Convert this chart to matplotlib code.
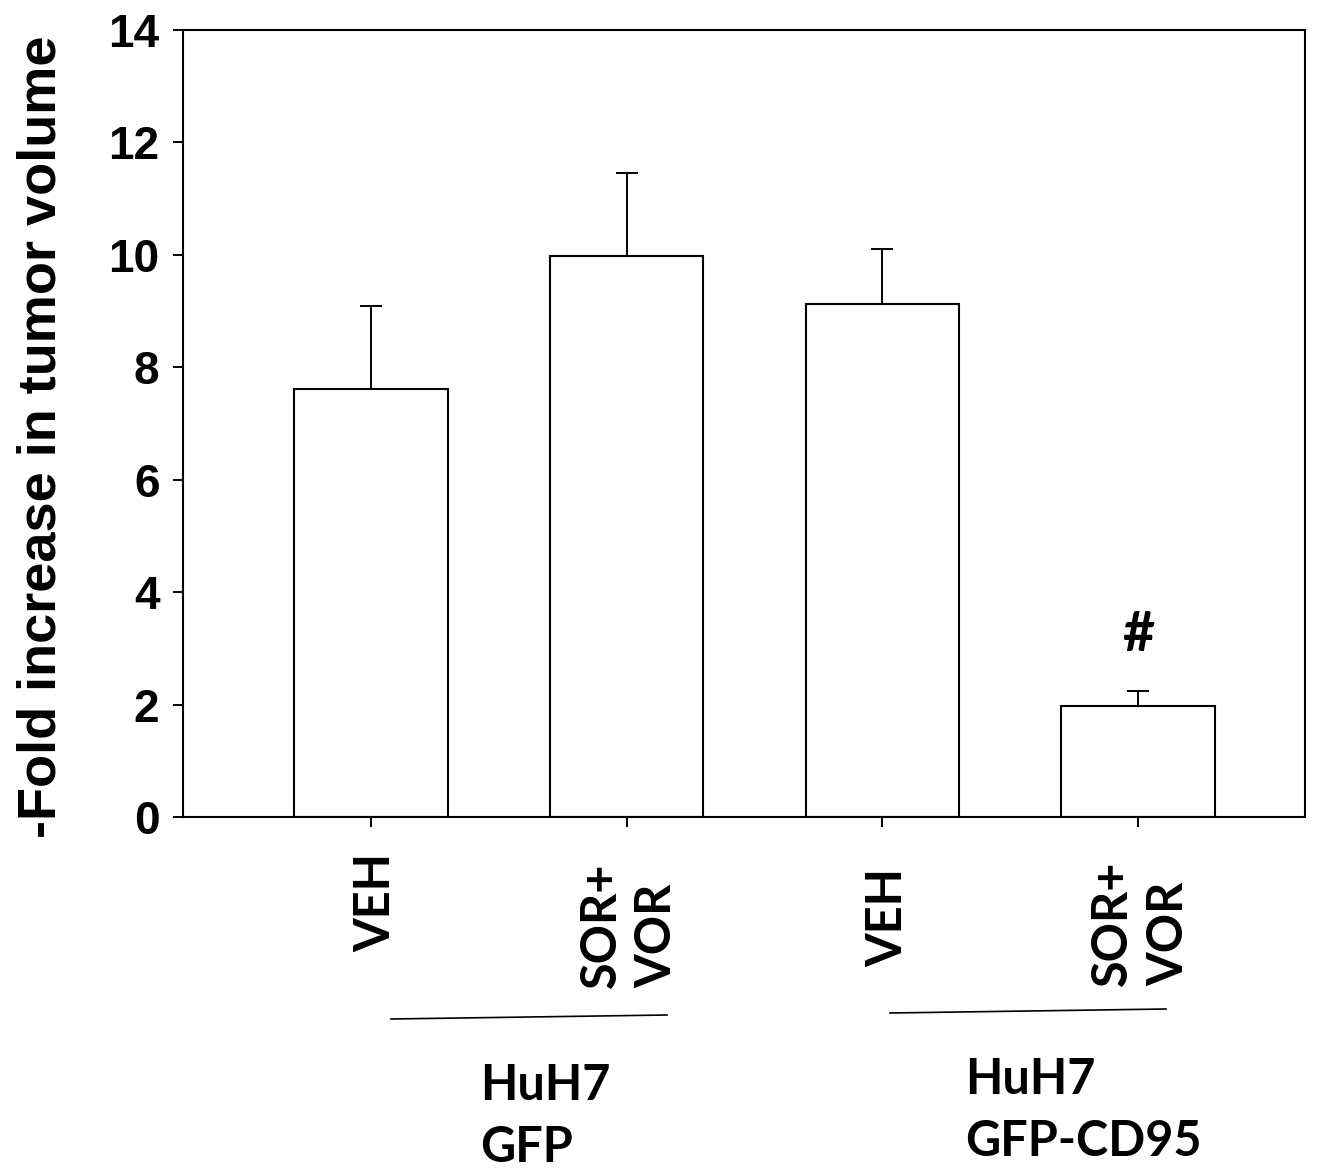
import numpy as np
import matplotlib
matplotlib.use("Agg")
import matplotlib.pyplot as plt
from matplotlib.lines import Line2D

# data
categories = ["VEH", "SOR+\nVOR", "VEH", "SOR+\nVOR"]
fold_increase = [7.62, 9.98, 9.12, 1.98]
sem = [1.47, 1.47, 0.99, 0.26]
groups = ["HuH7\nGFP", "HuH7\nGFP-CD95"]
yticks = [0, 2, 4, 6, 8, 10, 12, 14]

W, H = 1325, 1173
fig = plt.figure(figsize=(W / 100, H / 100), dpi=100)
ax = fig.add_axes([183 / W, 1 - 817 / H, (1305 - 183) / W, (817 - 30) / H])

x = np.arange(len(fold_increase))
ax.bar(x, fold_increase, width=0.6, color="white", edgecolor="black", linewidth=1.5, zorder=2)
ax.errorbar(x, fold_increase, yerr=[np.zeros(len(sem)), sem], fmt="none",
            ecolor="black", elinewidth=1.4, capsize=8, capthick=1.4, zorder=1)

arial = ["Liberation Sans", "DejaVu Sans"]
ax.set_xlim(-0.735, 3.653)
ax.set_ylim(0, 14)
ax.set_yticks(yticks)
ax.set_yticklabels([str(t) for t in yticks], fontsize=33, fontweight="bold", family=arial)
ax.set_xticks(x)
ax.set_xticklabels([])
ax.tick_params(axis="y", direction="out", length=7, width=1.4, pad=10)
ax.tick_params(axis="x", direction="out", length=7, width=1.4)
for s in ax.spines.values():
    s.set_linewidth(1.5)

# y axis title
fig.text(16 / W, 1 - 437 / H, "-Fold increase in tumor volume", rotation=90,
         ha="left", va="center", fontsize=39, fontweight="bold", family=arial)

lab_font = dict(fontsize=35, fontweight="bold", family=["Lato", "DejaVu Sans"])

# significance mark
ax.text(3, 3.24, "#", ha="center", va="center", fontsize=40, fontweight="bold",
        family=["Lato", "DejaVu Sans"])

# category labels under the axis (rotated)
trans = matplotlib.transforms.blended_transform_factory(ax.transData, fig.transFigure)
veh_top = [853, 868]
sv_bottom = [988, 986]
for i, lab in enumerate(categories):
    g = i // 2
    if "\n" in lab:
        ax.text(i + 0.01, 1 - sv_bottom[g] / H, lab, rotation=90, ha="center", va="bottom",
                multialignment="left", linespacing=1.3, transform=trans, **lab_font)
    else:
        ax.text(i + 0.02, 1 - veh_top[g] / H, lab, rotation=90, ha="center", va="top",
                transform=trans, **lab_font)

# group underlines and names
fig.add_artist(Line2D([391 / W, 667 / W], [1 - 1019 / H, 1 - 1015 / H], color="black", lw=1.2))
fig.add_artist(Line2D([890 / W, 1166 / W], [1 - 1013 / H, 1 - 1009 / H], color="black", lw=1.2))
group_pos = [(480, 1063), (965, 1057)]
for (gx, gy), name in zip(group_pos, groups):
    fig.text(gx / W, 1 - gy / H, name, ha="left", va="top", linespacing=1.45, **lab_font)

fig.savefig("out.png", dpi=100, facecolor="white")
